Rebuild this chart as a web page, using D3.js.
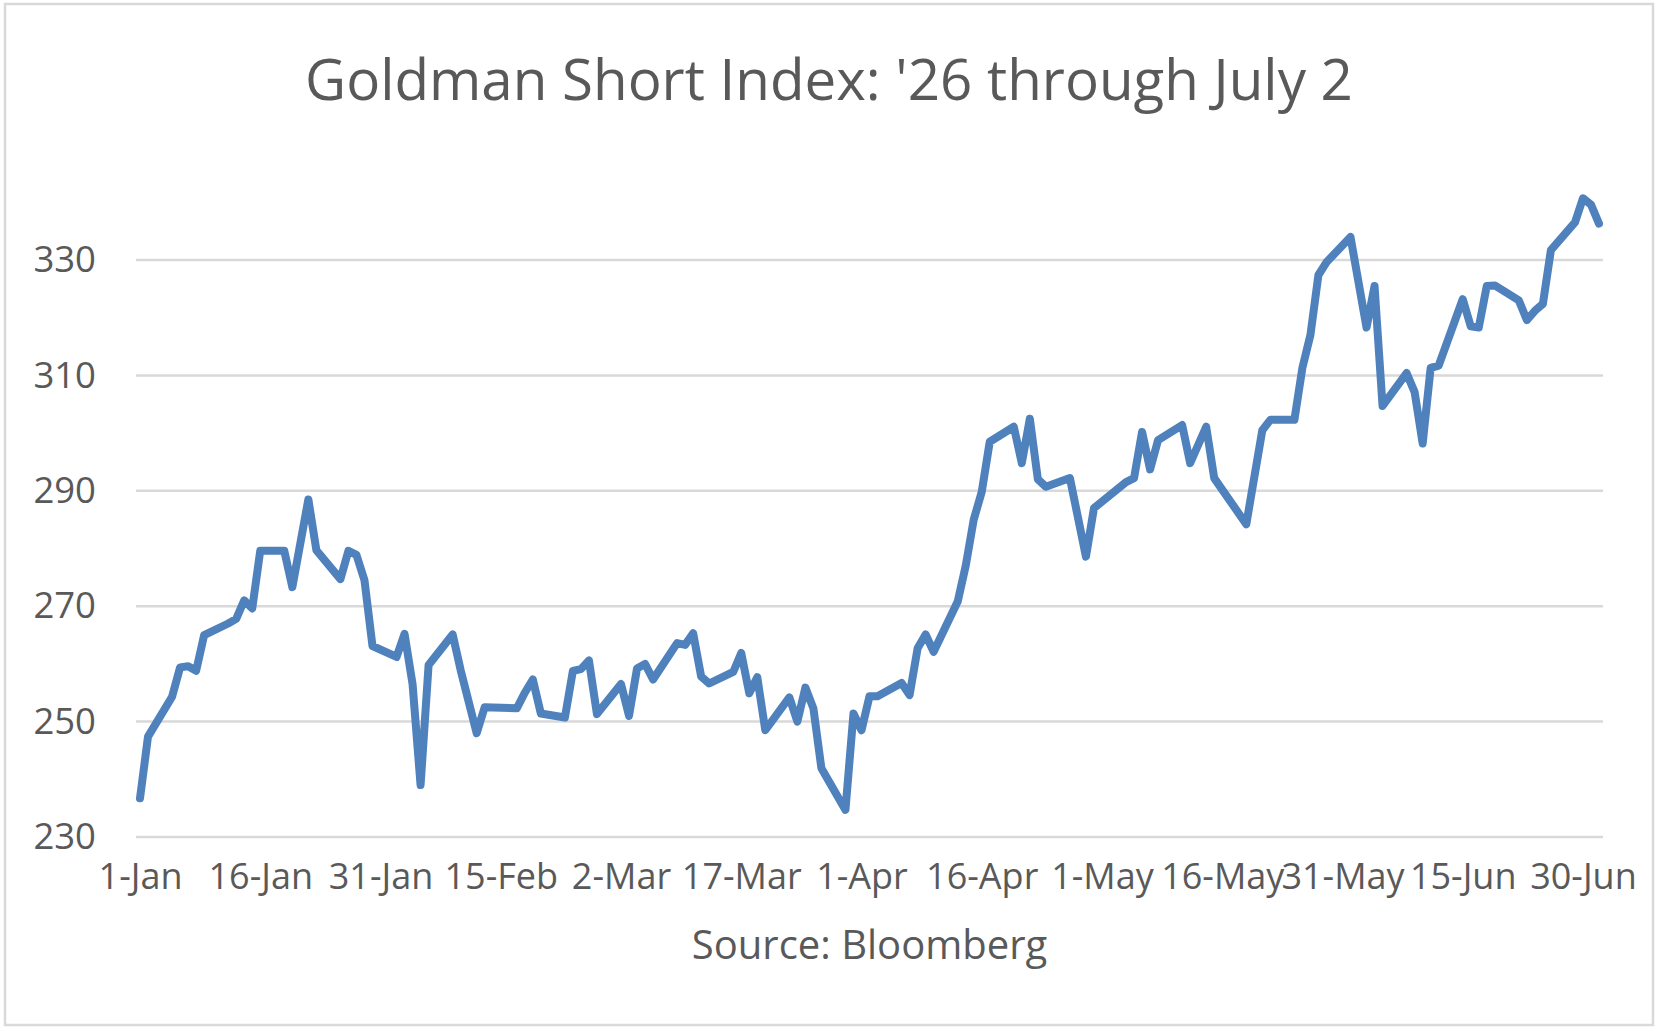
<!DOCTYPE html>
<html>
<head>
<meta charset="utf-8">
<script src="https://cdn.jsdelivr.net/npm/d3@7"></script>
<style>
  body { margin: 0; background: #fff; }
  svg { display: block; font-family: "Open Sans", sans-serif; }
</style>
</head>
<body>
<svg id="chart"></svg>
<script>
const title = "Goldman Short Index: '26 through July 2";
const sourceLabel = "Source: Bloomberg";

// trading days
const dates = [
  "2026-01-01", "2026-01-02", "2026-01-05", "2026-01-06", "2026-01-07", "2026-01-08", "2026-01-09",
  "2026-01-12", "2026-01-13", "2026-01-14", "2026-01-15", "2026-01-16", "2026-01-19", "2026-01-20",
  "2026-01-22", "2026-01-23", "2026-01-26", "2026-01-27", "2026-01-28", "2026-01-29", "2026-01-30",
  "2026-02-02", "2026-02-03", "2026-02-04", "2026-02-05", "2026-02-06", "2026-02-09", "2026-02-10",
  "2026-02-12", "2026-02-13", "2026-02-17", "2026-02-18", "2026-02-19", "2026-02-20", "2026-02-23",
  "2026-02-24", "2026-02-25", "2026-02-26", "2026-02-27", "2026-03-02", "2026-03-03", "2026-03-04",
  "2026-03-05", "2026-03-06", "2026-03-09", "2026-03-10", "2026-03-11", "2026-03-12", "2026-03-13",
  "2026-03-16", "2026-03-17", "2026-03-18", "2026-03-19", "2026-03-20", "2026-03-23", "2026-03-24",
  "2026-03-25", "2026-03-26", "2026-03-27", "2026-03-30", "2026-03-31", "2026-04-01", "2026-04-02",
  "2026-04-03", "2026-04-06", "2026-04-07", "2026-04-08", "2026-04-09", "2026-04-10", "2026-04-13",
  "2026-04-14", "2026-04-15", "2026-04-16", "2026-04-17", "2026-04-20", "2026-04-21", "2026-04-22",
  "2026-04-23", "2026-04-24", "2026-04-27", "2026-04-29", "2026-04-30", "2026-05-04", "2026-05-05",
  "2026-05-06", "2026-05-07", "2026-05-08", "2026-05-11", "2026-05-12", "2026-05-14", "2026-05-15",
  "2026-05-19", "2026-05-21", "2026-05-22", "2026-05-25", "2026-05-26", "2026-05-27", "2026-05-28",
  "2026-05-29", "2026-06-01", "2026-06-03", "2026-06-04", "2026-06-05", "2026-06-08", "2026-06-09",
  "2026-06-10", "2026-06-11", "2026-06-12", "2026-06-15", "2026-06-16", "2026-06-17", "2026-06-18",
  "2026-06-19", "2026-06-22", "2026-06-23", "2026-06-24", "2026-06-25", "2026-06-26", "2026-06-29",
  "2026-06-30", "2026-07-01", "2026-07-02"
];

const values = [
  236.7, 247.4, 254.3, 259.4, 259.6, 258.8, 265.0,
  267.0, 267.8, 271.0, 269.6, 279.6, 279.6, 273.3,
  288.5, 279.7, 274.7, 279.6, 278.9, 274.5, 263.1,
  261.2, 265.2, 256.5, 239.0, 259.8, 265.1, 258.9,
  248.0, 252.5, 252.3, 255.0, 257.3, 251.4, 250.7,
  258.8, 259.1, 260.6, 251.3, 256.5, 251.0, 259.2,
  260.0, 257.3, 263.6, 263.3, 265.3, 257.8, 256.6,
  258.6, 261.9, 254.9, 257.7, 248.5, 254.2, 250.0,
  255.9, 252.3, 241.9, 234.7, 251.4, 248.5, 254.4,
  254.4, 256.7, 254.6, 262.7, 265.1, 262.1, 270.8,
  277.0, 285.0, 289.8, 298.5, 301.1, 294.8, 302.5,
  292.0, 290.7, 292.2, 278.6, 287.0, 291.5, 292.2,
  300.2, 293.7, 298.8, 301.4, 294.8, 301.1, 292.2,
  284.2, 300.5, 302.3, 302.3, 311.3, 317.0, 327.4,
  329.6, 334.0, 318.3, 325.5, 304.7, 310.4, 307.1,
  298.2, 311.3, 311.7, 323.2, 318.5, 318.3, 325.5,
  325.6, 323.0, 319.6, 321.2, 322.4, 331.7, 336.5,
  340.7, 339.6, 336.3
];

const yTicks = [230, 250, 270, 290, 310, 330];
const xTicks = [
  "2026-01-01", "2026-01-16", "2026-01-31", "2026-02-15", "2026-03-02", "2026-03-17", "2026-04-01",
  "2026-04-16", "2026-05-01", "2026-05-16", "2026-05-31", "2026-06-15", "2026-06-30"
];

const width = 1663;
const height = 1035;
const plot = { left: 136, right: 1603, top: 144.6, bottom: 837 };
const textColor = "#595959";
const gridColor = "#d9d9d9";

const parse = d3.utcParse("%Y-%m-%d");
const series = dates.map((d, i) => ({ date: parse(d), value: values[i] }));

const svg = d3.select("#chart").attr("width", width).attr("height", height);

svg.append("rect")
  .attr("x", 5).attr("y", 4)
  .attr("width", 1648).attr("height", 1021)
  .attr("fill", "#fff")
  .attr("stroke", gridColor)
  .attr("stroke-width", 2.5);

const x = d3.scaleUtc()
  .domain([parse("2026-01-01"), parse("2026-07-02")])
  .range([140, 1599]);

const y = d3.scaleLinear()
  .domain([230, 350])
  .range([plot.bottom, plot.top]);

// gridlines
svg.append("g")
  .selectAll("line")
  .data(yTicks)
  .join("line")
  .attr("x1", plot.left).attr("x2", plot.right)
  .attr("y1", (d) => y(d)).attr("y2", (d) => y(d))
  .attr("stroke", gridColor)
  .attr("stroke-width", 2.5);

const yAxis = svg.append("g")
  .attr("transform", `translate(${plot.left},0)`)
  .call(d3.axisLeft(y).tickValues(yTicks).tickSize(0).tickPadding(40));
yAxis.select(".domain").remove();
yAxis.selectAll("text")
  .attr("fill", textColor)
  .style("font-size", "36.5px")
  .style("font-family", "'Open Sans', sans-serif");

const xAxis = svg.append("g")
  .attr("transform", `translate(0,${plot.bottom})`)
  .call(
    d3.axisBottom(x)
      .tickValues(xTicks.map(parse))
      .tickFormat(d3.utcFormat("%-d-%b"))
      .tickSize(0)
      .tickPadding(26),
  );
xAxis.select(".domain").remove();
xAxis.selectAll("text")
  .attr("fill", textColor)
  .style("font-size", "36px")
  .style("font-family", "'Open Sans', sans-serif");

const line = d3.line()
  .x((d) => x(d.date))
  .y((d) => y(d.value));

svg.append("path")
  .datum(series)
  .attr("fill", "none")
  .attr("stroke", "#4f81bd")
  .attr("stroke-width", 8)
  .attr("stroke-linejoin", "round")
  .attr("stroke-linecap", "round")
  .attr("d", line);

svg.append("text")
  .attr("x", 829).attr("y", 99.5)
  .attr("text-anchor", "middle")
  .attr("fill", textColor)
  .style("font-size", "56.5px")
  .text(title);

svg.append("text")
  .attr("x", (plot.left + plot.right) / 2).attr("y", 959)
  .attr("text-anchor", "middle")
  .attr("fill", textColor)
  .style("font-size", "40px")
  .text(sourceLabel);
</script>
</body>
</html>
